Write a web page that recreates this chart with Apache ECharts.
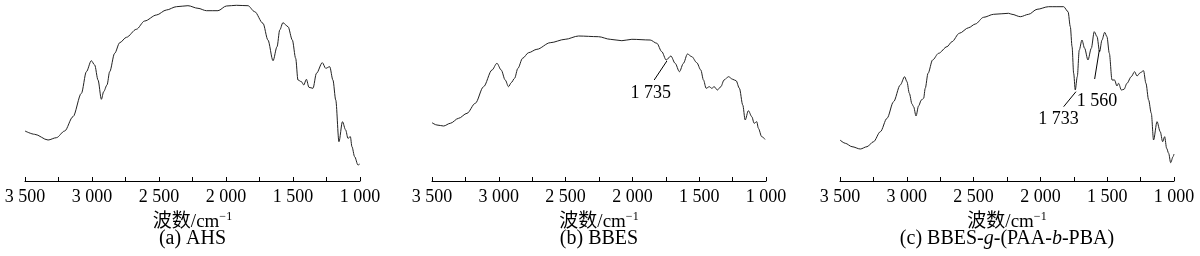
<!DOCTYPE html>
<html>
<head>
<meta charset="utf-8">
<script src="https://cdn.jsdelivr.net/npm/echarts@6/dist/echarts.min.js"></script>
<style>
html,body{margin:0;padding:0;background:#fff;}
#chart{width:1200px;height:256px;}
</style>
</head>
<body>
<div id="chart"></div>
<script>
// ---------- data (wavenumber in cm^-1, transmittance in arbitrary units) ----------
const tickValues = [1000, 1500, 2000, 2500, 3000, 3500];
const tickLabels = ['1 000', '1 500', '2 000', '2 500', '3 000', '3 500'];
const panelCaptions = ['(a) AHS', '(b) BBES', '(c) BBES-{i|g}-(PAA-{i|b}-PBA)'];

const ahsWavenumber = [3500,3428,3328,3266,3204,3142,3079,3042,3005,2980,2955,2930,2913,2888,2868,2831,2793,2743,2669,2607,2519,2445,2370,2284,2209,2146,2060,1997,1923,1836,1786,1724,1687,1649,1619,1599,1575,1537,1505,1480,1463,1437,1420,1400,1381,1351,1325,1281,1256,1226,1202,1181,1157,1131,1107,1090,1072,1060,1040,1015,1002];
const ahsTransmittance = [50,46.7,41,43.3,50,64.3,87.7,109.3,120.3,116,101,81.7,89.3,96,109.3,127.7,138.3,143.7,151.7,160,166,171,174.3,175.3,172.7,170.3,170.3,175,175.7,175.3,169.3,157.7,141,120.3,134.3,151,158.3,154.3,141,122.7,101,99.3,96,101.7,93.7,92.7,107.7,118.3,112.7,114.3,101,81,39.3,59.3,51,42.7,44.3,34.3,24.3,16,17];

const bbesWavenumber = [3500,3463,3413,3363,3301,3238,3176,3114,3051,3014,2982,2952,2927,2907,2882,2857,2822,2777,2715,2615,2503,2403,2254,2166,2079,2004,1867,1817,1780,1747,1712,1680,1648,1618,1588,1555,1518,1488,1468,1448,1424,1406,1388,1364,1338,1314,1281,1249,1224,1199,1174,1156,1132,1106,1089,1069,1057,1032,1007];
const bbesTransmittance = [58.3,56,55,57.7,62.7,67.7,77.7,94.3,111,117.7,111,101,94.3,98.3,102.7,112.7,122.7,128.3,131.7,138.3,141.7,145,144.3,141.7,140.3,141.7,141,137.7,129.3,121,125,117.7,109.3,117.7,127,124.3,118.3,111,101,92.7,94.3,92.7,94.3,91,94.3,101,104.3,101.7,100.3,92.7,76,61,70.3,64.3,57.7,59.3,52.7,44.3,41.7];

const graftWavenumber = [3500,3460,3410,3348,3298,3249,3198,3148,3099,3049,3016,2999,2981,2961,2949,2931,2912,2891,2874,2862,2841,2807,2762,2699,2662,2607,2537,2487,2425,2350,2238,2213,2150,2088,2025,1939,1826,1793,1776,1763,1751,1739,1724,1709,1689,1669,1644,1619,1597,1576,1557,1539,1519,1502,1484,1464,1445,1427,1415,1394,1374,1352,1320,1295,1277,1252,1228,1210,1190,1170,1153,1127,1103,1085,1070,1055,1040,1025,1007,1000];
const graftTransmittance = [41,37.7,34.3,32,34.3,39.3,49.3,62.7,79.3,96,104.3,99.3,87.7,77,74.3,65,75,81,82.7,92.7,107.7,121,127.7,134.3,139.3,147.7,153.3,157,163.7,166.7,167.7,166.7,164.3,166.7,171.7,174.3,174.3,169.3,154.3,134.3,107.7,91,104.3,131,141,132.7,121,132.7,149.3,144.3,129.3,141,148.7,144.3,127.7,101,101,95,97.7,91,91.7,97.7,104.3,109.3,105,108.3,110.3,97.7,81,67.7,41,59.3,49.3,39.3,44.3,32.7,27.7,18.3,24.3,27];

// peak annotations: label text, leader line from [wn, T] to [wn, T], label anchor [wn, T]
const bbesPeakText = ['1 735'];
const bbesLeaderFrom = [[1742, 120]];
const bbesLeaderTo = [[1837, 101]];
const bbesTextAt = [[1862, 88]];

const graftPeakText = ['1 733', '1 560'];
const graftLeaderFrom = [[1734, 89.3], [1559, 131]];
const graftLeaderTo = [[1826, 74.3], [1594, 102]];
const graftTextAt = [[1864, 62], [1576, 80]];

// ---------- chart ----------
const serif = '"Liberation Serif","Times New Roman","Noto Sans CJK SC",serif';
const zip = (a, b) => a.map((v, i) => [v, b[i]]);

const grids = [
  {left: 25, width: 335},
  {left: 432, width: 334},
  {left: 840, width: 334}
];

function xAxisFor(i) {
  return {
    type: 'value', gridIndex: i, inverse: true,
    min: 1000, max: 3500, interval: 250,
    axisLine: {show: true, onZero: false, lineStyle: {color: '#000', width: 1}},
    axisTick: {show: true, inside: true, length: 4, lineStyle: {color: '#000', width: 1}},
    splitLine: {show: false},
    axisLabel: {
      show: true, margin: 7, color: '#000', fontFamily: serif, fontSize: 18,
      showMinLabel: true, showMaxLabel: true,
      formatter: v => { const k = tickValues.indexOf(v); return k >= 0 ? tickLabels[k] : ''; }
    },
    name: '{a|波数/cm}{s|−1}',
    nameLocation: 'middle', nameGap: 27,
    nameTextStyle: {
      rich: {
        a: {fontFamily: serif, fontSize: 19, color: '#000', lineHeight: 22},
        s: {fontFamily: serif, fontSize: 12, color: '#000', lineHeight: 22, verticalAlign: 'top'}
      }
    }
  };
}

function yAxisFor(i) {
  return {type: 'value', gridIndex: i, min: 0, max: 181, show: false};
}

function annotations(texts, from, to, at) {
  return {
    markLine: {
      silent: true, symbol: ['none', 'none'], animation: false,
      lineStyle: {color: '#000', width: 1, type: 'solid'},
      label: {show: false},
      data: from.map((f, k) => [{coord: f}, {coord: to[k]}])
    },
    markPoint: {
      silent: true, animation: false,
      symbol: 'rect', symbolSize: 1, itemStyle: {color: 'rgba(0,0,0,0)'},
      label: {show: true, position: 'inside', color: '#000', fontFamily: serif, fontSize: 18, formatter: p => p.name},
      data: at.map((c, k) => ({name: texts[k], coord: c}))
    }
  };
}

function lineSeries(i, wn, tr, extra) {
  return Object.assign({
    type: 'line', xAxisIndex: i, yAxisIndex: i,
    data: zip(wn, tr),
    showSymbol: false, symbol: 'none',
    smooth: 0.3, smoothMonotone: 'x',
    lineStyle: {color: '#222', width: 1},
    silent: true, animation: false
  }, extra || {});
}

const captionCenters = grids.map(g => g.left + g.width / 2);

const option = {
  animation: false,
  backgroundColor: '#fff',
  grid: grids.map(g => ({left: g.left, width: g.width, top: 0, height: 181})),
  xAxis: [0, 1, 2].map(xAxisFor),
  yAxis: [0, 1, 2].map(yAxisFor),
  series: [
    lineSeries(0, ahsWavenumber, ahsTransmittance),
    lineSeries(1, bbesWavenumber, bbesTransmittance, annotations(bbesPeakText, bbesLeaderFrom, bbesLeaderTo, bbesTextAt)),
    lineSeries(2, graftWavenumber, graftTransmittance, annotations(graftPeakText, graftLeaderFrom, graftLeaderTo, graftTextAt))
  ],
  graphic: panelCaptions.map((t, i) => ({
    type: 'text', x: captionCenters[i], y: 239, silent: true,
    style: {
      text: t, align: 'center', verticalAlign: 'middle',
      fill: '#000', font: '20px ' + serif,
      rich: {
        i: {fontStyle: 'italic', fontFamily: serif, fontSize: 20, fill: '#000'}
      }
    }
  }))
};

const chart = echarts.init(document.getElementById('chart'), null, {renderer: 'canvas'});
chart.setOption(option);
</script>
</body>
</html>
